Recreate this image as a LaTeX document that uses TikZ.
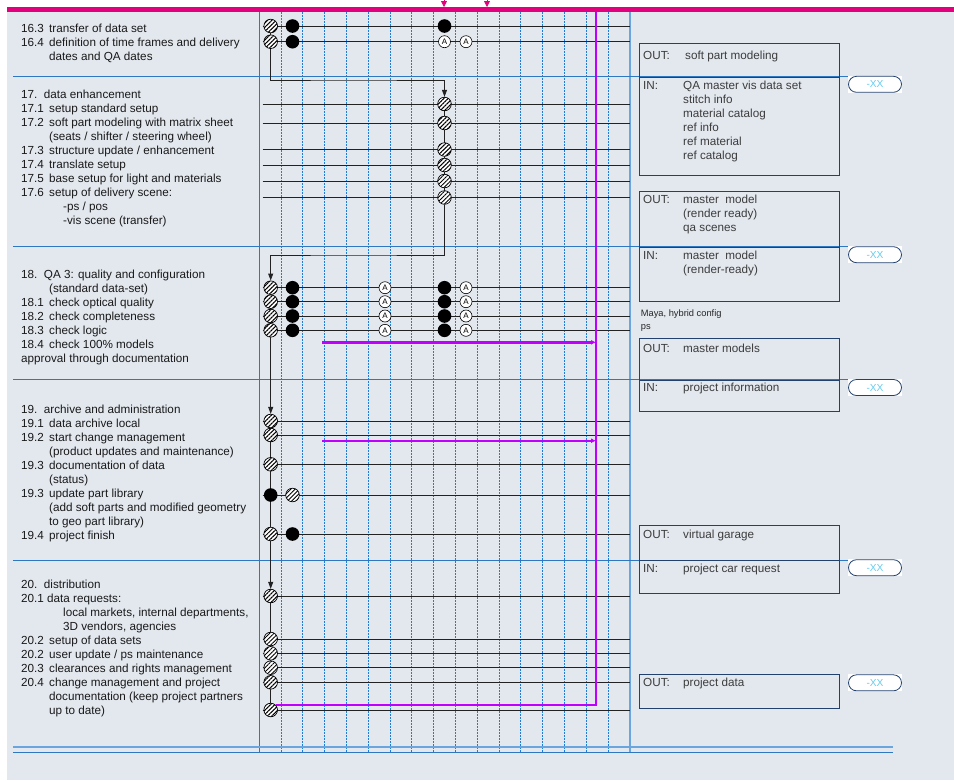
\documentclass[tikz,border=0pt]{standalone}
\usepackage{fontspec}
\setmainfont{Liberation Sans}
\usetikzlibrary{arrows.meta,patterns.meta,backgrounds}

\definecolor{panelbg}{HTML}{E3E8EF}
\definecolor{topbar}{HTML}{E3007D}
\definecolor{gridblue}{HTML}{2E78C2}
\definecolor{edgeblue}{HTML}{6AA6DD}
\definecolor{dotblue}{HTML}{1F7DD6}
\definecolor{rowgrey}{HTML}{222222}
\definecolor{flowpurple}{HTML}{BF00FF}
\definecolor{boxnavy}{HTML}{23416F}
\definecolor{xxcyan}{HTML}{66CCEE}
\definecolor{labelgrey}{HTML}{3C3C3C}

\newcommand{\ind}{\hspace*{14pt}}

\tikzset{
  hatchnode/.style={circle, draw=black, line width=0.7pt, minimum size=13.6pt, inner sep=0pt,
    preaction={fill=white}, pattern={Lines[angle=45,distance=3pt,line width=1pt]}},
  dotnode/.style={circle, fill=black, minimum size=13.6pt, inner sep=0pt},
  anode/.style={circle, draw=black, fill=white, line width=0.6pt, minimum size=12pt, inner sep=0pt,
    font=\fontsize{8}{8}\selectfont},
  rowline/.style={rowgrey, line width=0.8pt},
  flowline/.style={rowgrey, line width=0.9pt},
  flowarrow/.style={flowline, -{Triangle[length=7pt,width=5pt]}},
  purpleline/.style={flowpurple, line width=2.4pt},
  purplearrow/.style={purpleline, -{Latex[length=5pt,width=5pt]}},
  sectext/.style={anchor=base west, inner sep=0pt, text=black!90, font=\fontsize{11.7}{14}\selectfont},
  boxtext/.style={anchor=base west, inner sep=0pt, text=labelgrey, font=\fontsize{11.7}{14}\selectfont},
  boxline/.style={draw=boxnavy, line width=0.8pt},
  sepline/.style={gridblue, line width=0.8pt},
  dotline/.style={dotblue, line width=1pt, dash pattern=on 1.5pt off 1.5pt},
  xxtag/.style={fill=white, minimum width=54pt, minimum height=17pt, inner sep=0pt, text=xxcyan,
    font=\fontsize{10.2}{11}\selectfont, text depth=-1.5pt,
    path picture={\draw[boxnavy, line width=0.8pt, rounded corners=8pt]
      ([shift={(0.5pt,-0.5pt)}]path picture bounding box.north west) rectangle
      ([shift={(-0.5pt,0.5pt)}]path picture bounding box.south east);}}
}

\begin{document}
\begin{tikzpicture}[x=1pt,y=-1pt]
  \useasboundingbox (0,0) rectangle (954,780);
  \begin{scope}[on background layer]
    \fill[panelbg] (7,12) rectangle (954,780);
    \fill[topbar] (7,7) rectangle (954,12);
    \foreach \i in {0,...,15}
      \draw[dotline] ({281+21.8*\i},12) -- ({281+21.8*\i},752);
    \draw[gridblue, line width=0.9pt] (259,12) -- (259,752);
    \draw[edgeblue, line width=2pt] (630,12) -- (630,752);
    \foreach \y in {76,246,379,560}
      \draw[sepline] (13,\y) -- (849,\y);
    \draw[edgeblue, line width=1.8pt] (13,747) -- (893,747);
    \draw[gridblue, line width=0.9pt] (13,752) -- (893,752);
  \end{scope}
  \foreach \x in {444,487}
    \draw[topbar, line width=0.8pt, -{Triangle[length=6pt,width=6pt]}] (\x,0) -- (\x,7);

  % left column
  \node[sectext] (t16) at (21,32) {\begin{tabular}[t]{@{}p{28pt}@{}l@{}}
    16.3 & transfer of data set\\
    16.4 & definition of time frames and delivery\\
         & dates and QA dates
  \end{tabular}};
  \node[sectext] (t17) at (21,98) {\begin{tabular}[t]{@{}p{28pt}@{}l@{}}
    \multicolumn{2}{@{}l@{}}{17.\ \ data enhancement}\\
    17.1 & setup standard setup\\
    17.2 & soft part modeling with matrix sheet\\
         & (seats / shifter / steering wheel)\\
    17.3 & structure update / enhancement\\
    17.4 & translate setup\\
    17.5 & base setup for light and materials\\
    17.6 & setup of delivery scene:\\
         & \ind-ps / pos\\
         & \ind-vis scene (transfer)
  \end{tabular}};
  \node[sectext] (t18) at (21,278) {\begin{tabular}[t]{@{}p{28pt}@{}l@{}}
    \multicolumn{2}{@{}l@{}}{18.\ \ QA 3: quality and configuration}\\
         & (standard data-set)\\
    18.1 & check optical quality\\
    18.2 & check completeness\\
    18.3 & check logic\\
    18.4 & check 100\% models\\
    \multicolumn{2}{@{}l@{}}{approval through documentation}
  \end{tabular}};
  \node[sectext] (t19) at (21,413) {\begin{tabular}[t]{@{}p{28pt}@{}l@{}}
    \multicolumn{2}{@{}l@{}}{19.\ \ archive and administration}\\
    19.1 & data archive local\\
    19.2 & start change management\\
         & (product updates and maintenance)\\
    19.3 & documentation of data\\
         & (status)\\
    19.3 & update part library\\
         & (add soft parts and modified geometry\\
         & to geo part library)\\
    19.4 & project finish
  \end{tabular}};
  \node[sectext] (t20) at (21,588) {\begin{tabular}[t]{@{}p{28pt}@{}l@{}}
    \multicolumn{2}{@{}l@{}}{20.\ \ distribution}\\
    \multicolumn{2}{@{}l@{}}{20.1 data requests:}\\
         & \ind local markets, internal departments,\\
         & \ind 3D vendors, agencies\\
    20.2 & setup of data sets\\
    20.2 & user update / ps maintenance\\
    20.3 & clearances and rights management\\
    20.4 & change management and project\\
         & documentation (keep project partners\\
         & up to date)
  \end{tabular}};

  % right column
  \draw[boxline] (639,43.3) rectangle (839,77);
  \draw[boxline] (639,77) rectangle (839,175);
  \draw[boxline] (639,191.7) rectangle (839,247);
  \draw[boxline] (639,247) rectangle (839,301.7);
  \draw[boxline] (639,338.3) rectangle (839,380);
  \draw[boxline] (639,380) rectangle (839,411.7);
  \draw[boxline] (639,525.7) rectangle (839,560.5);
  \draw[boxline] (639,560.5) rectangle (839,593.3);
  \draw[boxline] (639,674.3) rectangle (839,708.3);
  \node[boxtext] (o1) at (643,59) {\begin{tabular}[t]{@{}p{40pt}@{}l@{}}
    OUT: & \hspace*{2pt}soft part modeling\end{tabular}};
  \node[boxtext] (i1) at (643,89) {\begin{tabular}[t]{@{}p{40pt}@{}l@{}}
    IN: & QA master vis data set\\ & stitch info\\ & material catalog\\
        & ref info\\ & ref material\\ & ref catalog\end{tabular}};
  \node[boxtext] (o2) at (643,203.5) {\begin{tabular}[t]{@{}p{40pt}@{}l@{}}
    OUT: & master\ \ model\\ & (render ready)\\ & qa scenes\end{tabular}};
  \node[boxtext] (i2) at (643,259) {\begin{tabular}[t]{@{}p{40pt}@{}l@{}}
    IN: & master\ \ model\\ & (render-ready)\end{tabular}};
  \node[boxtext, text=black!85, font=\fontsize{9.3}{13}\selectfont] (note) at (640.7,316)
    {\begin{tabular}[t]{@{}l@{}}Maya, hybrid config\\ps\end{tabular}};
  \node[boxtext] (o3) at (643,352.5) {\begin{tabular}[t]{@{}p{40pt}@{}l@{}}
    OUT: & master models\end{tabular}};
  \node[boxtext] (i3) at (643,391) {\begin{tabular}[t]{@{}p{40pt}@{}l@{}}
    IN: & project information\end{tabular}};
  \node[boxtext] (o4) at (643,538) {\begin{tabular}[t]{@{}p{40pt}@{}l@{}}
    OUT: & virtual garage\end{tabular}};
  \node[boxtext] (i4) at (643,572.5) {\begin{tabular}[t]{@{}p{40pt}@{}l@{}}
    IN: & project car request\end{tabular}};
  \node[boxtext] (o5) at (643,686.5) {\begin{tabular}[t]{@{}p{40pt}@{}l@{}}
    OUT: & project data\end{tabular}};
  \node[xxtag] (xx1) at (875,84.3) {-XX};
  \node[xxtag] (xx2) at (875,254.7) {-XX};
  \node[xxtag] (xx3) at (875,387.5) {-XX};
  \node[xxtag] (xx4) at (875,567.7) {-XX};
  \node[xxtag] (xx5) at (875,682.8) {-XX};

  % matrix marks
  \node[hatchnode] (h163) at (270.7,26) {};
  \node[dotnode] (d163) at (292.5,26) {};
  \node[dotnode] (e163) at (444.5,26) {};
  \node[hatchnode] (h164) at (270.7,41.7) {};
  \node[dotnode] (d164) at (292.5,41.7) {};
  \node[anode] (a164) at (444.5,41.7) {A};
  \node[anode] (b164) at (466,41.7) {A};
  \foreach \n/\y in {1/104,2/123,3/149.5,4/165,5/181,6/197.5}
    \node[hatchnode] (h17\n) at (444.5,\y) {};
  \foreach \n/\y in {0/287.7,1/301.7,2/316,3/330.3}{
    \node[hatchnode] (h18\n) at (270.7,\y) {};
    \node[dotnode] (d18\n) at (292.5,\y) {};
    \node[anode] (a18\n) at (385,\y) {A};
    \node[dotnode] (e18\n) at (444.5,\y) {};
    \node[anode] (b18\n) at (466,\y) {A};
  }
  \node[hatchnode] (h191) at (270.7,421) {};
  \node[hatchnode] (h192) at (270.7,435) {};
  \node[hatchnode] (h193) at (270.7,464.3) {};
  \node[dotnode] (d194) at (270.7,495) {};
  \node[hatchnode] (h194) at (292.5,495) {};
  \node[hatchnode] (h195) at (270.7,534) {};
  \node[dotnode] (d195) at (292.5,534) {};
  \foreach \n/\y in {1/596,2/639,3/653.3,4/667.7,5/682.3,6/710}
    \node[hatchnode] (h20\n) at (270.7,\y) {};

  \coordinate (lx) at (262.5,0);
  \coordinate (rx) at (630,0);
  \coordinate (j16) at (350,80);
  \coordinate (j17) at (350,255);
  \coordinate (ptop) at (596,12);
  \coordinate (m1) at (322,342.3);
  \coordinate (m2) at (322,440.7);
  \begin{scope}[on background layer]
    \foreach \r in {h163,h164,h171,h172,h173,h174,h175,h176,h180,h181,h182,h183,
                    h191,h192,h193,d194,h195,h201,h202,h203,h204,h205,h206}
      \draw[rowline] (lx |- \r) -- (rx |- \r);
    \draw[flowline] (h163.center) -- (h164.center);
    \draw[flowarrow] (h164) |- (j16) -| (h171);
    \draw[flowline] (h171.center) -- (h176.center);
    \draw[flowarrow] (h176) |- (j17) -| (h180);
    \draw[flowline] (h180.center) -- (h183.center);
    \draw[flowarrow] (h183) -- (h191);
    \draw[flowline] (h191.center) -- (h195.center);
    \draw[flowarrow] (h195) -- (h201);
    \draw[flowline] (h201.center) -- (h206.center);
    \draw[purpleline] (ptop) |- (h206.north east);
    \draw[purplearrow] (m1) -- (ptop |- m1);
    \draw[purplearrow] (m2) -- (ptop |- m2);
  \end{scope}
\end{tikzpicture}
\end{document}
